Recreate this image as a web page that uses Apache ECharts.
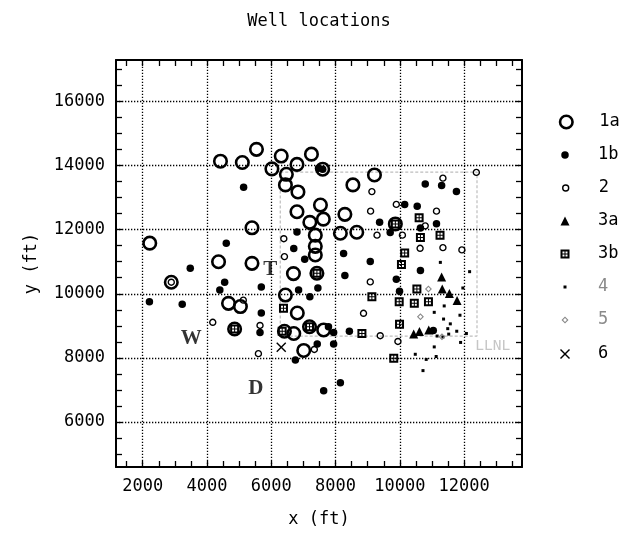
<!DOCTYPE html>
<html><head><meta charset="utf-8">
<script src="https://cdn.jsdelivr.net/npm/echarts@6/dist/echarts.min.js"></script>
<style>html,body{margin:0;padding:0;background:#fff}#c{width:626px;height:538px}</style>
</head><body><div id="c"></div><script>
// ---- axis ticks / labels ----
const xTickValues = [1500,2000,2500,3000,3500,4000,4500,5000,5500,6000,6500,7000,7500,8000,8500,9000,9500,10000,10500,11000,11500,12000,12500,13000,13500];
const yTickValues = [5000,5500,6000,6500,7000,7500,8000,8500,9000,9500,10000,10500,11000,11500,12000,12500,13000,13500,14000,14500,15000,15500,16000,16500,17000];
const xLabelValues = [2000,4000,6000,8000,10000,12000];
const yLabelValues = [6000,8000,10000,12000,14000,16000];

// ---- series data ----
const s1aX = [2220,4420,5100,5540,6020,6310,6800,7250,6470,6440,6830,7600,6800,5400,7200,7530,9210,8540,8290,8150,8660,7370,7370,7370,7620,9860,4360,5400,2890,4670,5040,4860,6690,7420,6440,6810,7190,7630,7010,6700,6410];
const s1aY = [11580,14140,14100,14510,13900,14300,14040,14360,13730,13400,13180,13890,12560,12060,12230,12770,13710,13400,12480,11890,11920,11830,11480,11210,12330,12180,11000,10950,10360,9700,9600,8900,10630,10640,9960,9400,8970,8870,8230,8760,8830];

const s1bX = [5140,4600,7470,7600,6800,6700,7040,9370,9700,10790,11300,11760,10150,10540,11140,10640,10640,8250,9080,8290,9890,9990,7450,7940,8430,7940,7430,8150,7630,3480,4550,4400,2210,3230,5690,5690,5650,6750,6850,7200,11040,7780];
const s1bY = [13330,11580,13920,13890,11930,11410,11080,12230,11910,13430,13380,13190,12790,12730,12190,12050,10730,11260,11010,10570,10450,10080,10180,8790,8830,8430,8430,7220,6970,10800,10360,10120,9750,9670,10210,9400,8790,7930,10120,9910,8850,8970];

const s2X = [12380,11340,9130,9090,9890,11140,10790,9290,10080,10630,11340,11930,9080,8870,9390,9940,4180,5130,5650,5600,6410,6390,2890,7340];
const s2Y = [13790,13610,13190,12580,12790,12580,12120,11830,11830,11420,11440,11370,10370,9390,8690,8510,9110,9800,9010,8130,11160,11720,10360,8260];

const s3aX = [11300,11320,11540,11780,10430,10610,10900];
const s3aY = [10520,10150,10010,9790,8740,8820,8870];

const s3bX = [9860,10600,10640,11250,10150,10050,10530,9130,9980,10450,10890,8820,9810,9990,4860,7190,7420,6340,6380];
const s3bY = [12180,12370,11760,11830,11270,10910,10150,9910,9750,9700,9750,8760,7990,9050,8900,8970,10640,8830,9550];

const s4X = [11260,12170,11960,11070,11380,11360,11570,11870,11770,12070,11490,11520,11340,11160,11890,11070,10480,10820,11130,10720];
const s4Y = [10980,10690,10180,9420,9620,9210,9060,9330,8830,8760,8910,8740,8650,8680,8480,8340,8110,7950,8040,7600];

const s5X = [10640,10890,11310];
const s5Y = [9280,10150,8660];

const s6X = [6310];
const s6Y = [8330];

// LLNL site outline
const siteX = [6280,12400,12400,6280,6280];
const siteY = [13800,13800,8680,8680,13800];

// map annotations
const annotText = ['T','W','D'];
const annotX = [5970,3510,5520];
const annotY = [10740,8600,7040];
const siteLabel = ['LLNL'];
const siteLabelX = [12890];
const siteLabelY = [8370];

const seriesNames = ['1a','1b','2','3a','3b','4','5','6'];

// ---- build ----
const pts = (xs, ys) => xs.map((x, i) => [x, ys[i]]);
const FONT = 'DejaVu Sans Mono';
const GRIDPATH = 'path://M0 0H9V9H0Z M2 2V4H4V2Z M5 2V4H7V2Z M2 5V7H4V5Z M5 5V7H7V5Z';
const XPATH = 'path://M0 1L1 0L5 4L9 0L10 1L6 5L10 9L9 10L5 6L1 10L0 9L4 5Z';
const DIAPATH = 'path://M5 0L10 5L5 10L0 5Z M5 2.2L2.2 5L5 7.8L7.8 5Z';

const styles = {
  '1a': {symbol:'circle', size:12.5, itemStyle:{color:'rgba(0,0,0,0)', borderColor:'#000', borderWidth:2.6, opacity:1}},
  '1b': {symbol:'circle', size:7.5, itemStyle:{color:'#000', opacity:1}},
  '2':  {symbol:'circle', size:6, itemStyle:{color:'rgba(0,0,0,0)', borderColor:'#000', borderWidth:1.4, opacity:1}},
  '3a': {symbol:'triangle', size:9, itemStyle:{color:'#000', opacity:1}},
  '3b': {symbol:GRIDPATH, size:9, itemStyle:{color:'#000', opacity:1}},
  '4':  {symbol:'rect', size:3, itemStyle:{color:'#000', opacity:1}},
  '5':  {symbol:DIAPATH, size:7, itemStyle:{color:'#888', opacity:1}},
  '6':  {symbol:XPATH, size:10, itemStyle:{color:'#000', opacity:1}}
};
const dataByName = {
  '1a': pts(s1aX, s1aY), '1b': pts(s1bX, s1bY), '2': pts(s2X, s2Y),
  '3a': pts(s3aX, s3aY), '3b': pts(s3bX, s3bY), '4': pts(s4X, s4Y),
  '5': pts(s5X, s5Y), '6': pts(s6X, s6Y)
};
const drawOrder = ['4','5','3b','3a','2','1b','1a','6'];

const axisCommon = (min, max, ticks) => ({
  type:'value', min:min, max:max,
  axisLine:{show:true, onZero:false, lineStyle:{color:'#000', width:2}},
  axisTick:{show:true, inside:true, length:6, customValues:ticks, lineStyle:{color:'#000', width:1.3}},
  splitLine:{show:false}
});

const XMIN = 1170, XMAX = 13800, YMIN = 4590, YMAX = 17300;

const series = [];
series.push({
  name:'_grid', type:'scatter', data:[], silent:true, z:1,
  markLine:{
    silent:true, symbol:['none','none'], label:{show:false}, animation:false,
    lineStyle:{color:'#000', width:1.3, type:[1.3,1.7], opacity:1},
    emphasis:{disabled:true},
    data: xLabelValues.map(v => ({xAxis:v})).concat(yLabelValues.map(v => ({yAxis:v})))
  }
});
series.push({
  name:'_site', type:'line', data:pts(siteX, siteY), symbol:'none', silent:true, z:2,
  lineStyle:{color:'#bdbdbd', width:1.2, type:[3,2]}
});
drawOrder.forEach(n => {
  const st = styles[n];
  series.push({
    name:n, type:'scatter', data:dataByName[n], symbol:st.symbol, symbolSize:st.size,
    itemStyle:st.itemStyle, z:3, emphasis:{disabled:true}
  });
});
series.push({
  name:'_annot', type:'scatter', symbolSize:0, silent:true, z:4,
  data: annotText.map((t, i) => ({name:t, value:[annotX[i], annotY[i]]})),
  label:{show:true, position:'inside', formatter:p => p.name, color:'#000',
         fontFamily:'Liberation Serif', fontWeight:'bold', fontSize:21}
});
series.push({
  name:'_sitelabel', type:'scatter', symbolSize:0, silent:true, z:4,
  data: siteLabel.map((t, i) => ({name:t, value:[siteLabelX[i], siteLabelY[i]]})),
  label:{show:true, position:'inside', formatter:p => p.name, color:'#b8b8b8',
         fontFamily:FONT, fontSize:14.5}
});

const legendRowsY = [122, 155, 188, 221, 254, 287, 320, 354];
const legends = seriesNames.map((n, i) => {
  const st = styles[n];
  const w = Math.max(st.size, 3);
  return {
    data:[{name:n, icon:st.symbol}], orient:'vertical', selectedMode:false,
    left: 565 - w / 2, top: legendRowsY[i] - Math.max(w, 17) / 2,
    padding:0, itemWidth:w, itemHeight:w,
    itemStyle: st.itemStyle,
    textStyle:{fontFamily:FONT, fontSize:17, color:(n === '4' || n === '5') ? '#8a8a8a' : '#000',
               padding:[0,0,0, 598 - (565 + w / 2) - 5]}
  };
});

const plain = v => String(v);

const chart = echarts.init(document.getElementById('c'), null, {renderer:'canvas'});
chart.setOption({
  animation:false,
  backgroundColor:'#fff',
  title:{text:'Well locations', left:314, top:8, textAlign:'center',
         textStyle:{fontFamily:FONT, fontSize:17, fontWeight:'normal', color:'#000'}},
  grid:{left:116, right:104, top:60, bottom:71},
  legend: legends,
  xAxis:[
    Object.assign(axisCommon(XMIN, XMAX, xTickValues), {
      position:'bottom',
      axisLabel:{show:true, customValues:xLabelValues, formatter:plain, margin:11, color:'#000', fontFamily:FONT, fontSize:17},
      name:'x (ft)', nameLocation:'middle', nameGap:44,
      nameTextStyle:{fontFamily:FONT, fontSize:17, color:'#000'}
    }),
    Object.assign(axisCommon(XMIN, XMAX, xTickValues), {position:'top', axisLabel:{show:false}})
  ],
  yAxis:[
    Object.assign(axisCommon(YMIN, YMAX, yTickValues), {
      position:'left',
      axisLabel:{show:true, customValues:yLabelValues, formatter:plain, margin:11, color:'#000', fontFamily:FONT, fontSize:17},
      name:'y (ft)', nameLocation:'middle', nameGap:76, nameRotate:90,
      nameTextStyle:{fontFamily:FONT, fontSize:17, color:'#000'}
    }),
    Object.assign(axisCommon(YMIN, YMAX, yTickValues), {position:'right', axisLabel:{show:false}})
  ],
  series: series
});
</script></body></html>
